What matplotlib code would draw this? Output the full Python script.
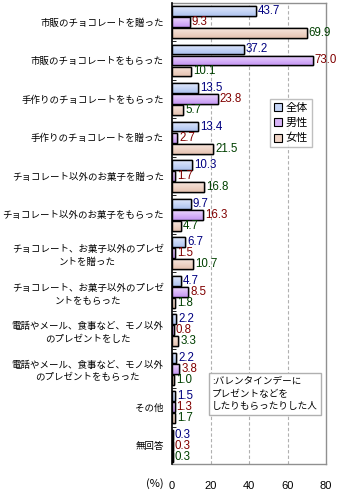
import numpy as np
import matplotlib.pyplot as plt
from matplotlib.colors import LinearSegmentedColormap

plt.rcParams['font.family'] = ['Noto Sans CJK JP', 'DejaVu Sans']

# data
categories = [
    "市販のチョコレートを贈った",
    "市販のチョコレートをもらった",
    "手作りのチョコレートをもらった",
    "手作りのチョコレートを贈った",
    "チョコレート以外のお菓子を贈った",
    "チョコレート以外のお菓子をもらった",
    "チョコレート、お菓子以外のプレゼ\nントを贈った",
    "チョコレート、お菓子以外のプレゼ\nントをもらった",
    "電話やメール、食事など、モノ以外\nのプレゼントをした",
    "電話やメール、食事など、モノ以外\nのプレゼントをもらった",
    "その他",
    "無回答",
]
total = [43.7, 37.2, 13.5, 13.4, 10.3, 9.7, 6.7, 4.7, 2.2, 2.2, 1.5, 0.3]
male = [9.3, 73.0, 23.8, 2.7, 1.7, 16.3, 1.5, 8.5, 0.8, 3.8, 1.3, 0.3]
female = [69.9, 10.1, 5.7, 21.5, 16.8, 4.7, 10.7, 1.8, 3.3, 1.0, 1.7, 0.3]
series_names = ["全体", "男性", "女性"]
x_ticks = [0, 20, 40, 60, 80]

fills = ["#c4d4f6", "#d8b4f8", "#f0d4c6"]
grads = [("#e0e9fc", "#afc3ef"), ("#ecd6fd", "#c597f3"), ("#f8e6dd", "#e6c3b2")]
text_colors = ["#000080", "#800000", "#004000"]

fig = plt.figure(figsize=(3.4, 4.95), dpi=100)
ax = fig.add_axes([172 / 340, 1 - 464 / 495, 154 / 340, 461 / 495])

pitch = 3.5
n = len(categories)
base = np.arange(n) * pitch
grad = np.linspace(0, 1, 32).reshape(-1, 1)
for k, (vals, name) in enumerate(zip([total, male, female], series_names)):
    ys = base + k
    bars = ax.barh(ys, vals, height=0.9, color=fills[k], edgecolor="black",
                   linewidth=1.0, label=name, zorder=2)
    cmap = LinearSegmentedColormap.from_list("g%d" % k, grads[k])
    for b in bars:
        x0, y0 = b.get_x(), b.get_y()
        w, h = b.get_width(), b.get_height()
        im = ax.imshow(grad, cmap=cmap, aspect="auto", extent=(x0, x0 + w, y0 + h, y0),
                       origin="upper", zorder=2.1)
        im.set_clip_path(b)
        ax.add_patch(plt.Rectangle((x0, y0), w, h, fill=False, edgecolor="black",
                                   linewidth=1.0, zorder=2.2))
    for y, v in zip(ys, vals):
        ax.annotate(f"{v:.1f}", (v, y), xytext=(1.5, 0), textcoords="offset points",
                    va="center", ha="left", fontsize=8.3, color=text_colors[k],
                    family="Liberation Sans")

ax.set_xlim(0, 80)
ax.set_ylim(41.15, -0.72)
ax.set_xticks(x_ticks)
ax.set_xticklabels([str(t) for t in x_ticks], fontsize=8, family="Liberation Sans")
ax.tick_params(axis="x", length=0, pad=12)
ax.set_yticks(base + 1)
ax.set_yticklabels(categories, fontsize=6.8, linespacing=1.45, multialignment="center")
ax.tick_params(axis="y", length=0, pad=6)
ax.set_yticks((base - 0.75)[1:], minor=True)
ax.tick_params(axis="y", which="minor", direction="in", length=3, color="black")

for t in [20, 40, 60]:
    ax.axvline(t, color="#b0b0b0", linestyle=(0, (3, 2)), linewidth=0.8, zorder=0)

ax.spines["left"].set_color("black")
ax.spines["left"].set_linewidth(1.2)
ax.spines["left"].set_zorder(3)
for s in ["top", "right", "bottom"]:
    ax.spines[s].set_color("#909090")
    ax.spines[s].set_linewidth(1.0)

fig.text(164 / 340, 1 - 484 / 495, "(%)", ha="right", va="center", fontsize=8)

leg = ax.legend(loc="upper left", bbox_to_anchor=((270 - 172) / 154, 1 - 96 / 461),
                fontsize=8, frameon=True, fancybox=False, handlelength=0.75,
                handleheight=0.75, handletextpad=0.3, borderpad=0.35, labelspacing=0.45,
                borderaxespad=0)
leg.get_frame().set_edgecolor("#b0b0b0")
leg.get_frame().set_linewidth(1.0)
leg.set_zorder(5)
for h in leg.legend_handles:
    h.set_linewidth(0.8)

fig.text(212 / 340, 1 - 394 / 495, ":バレンタインデーに\nプレゼントなどを\nしたりもらったりした人",
         ha="left", va="center", fontsize=6.9, linespacing=1.5,
         bbox=dict(boxstyle="square,pad=0.35", facecolor="white", edgecolor="#b0b0b0",
                   linewidth=1.0))

fig.savefig("out.png", dpi=100)
